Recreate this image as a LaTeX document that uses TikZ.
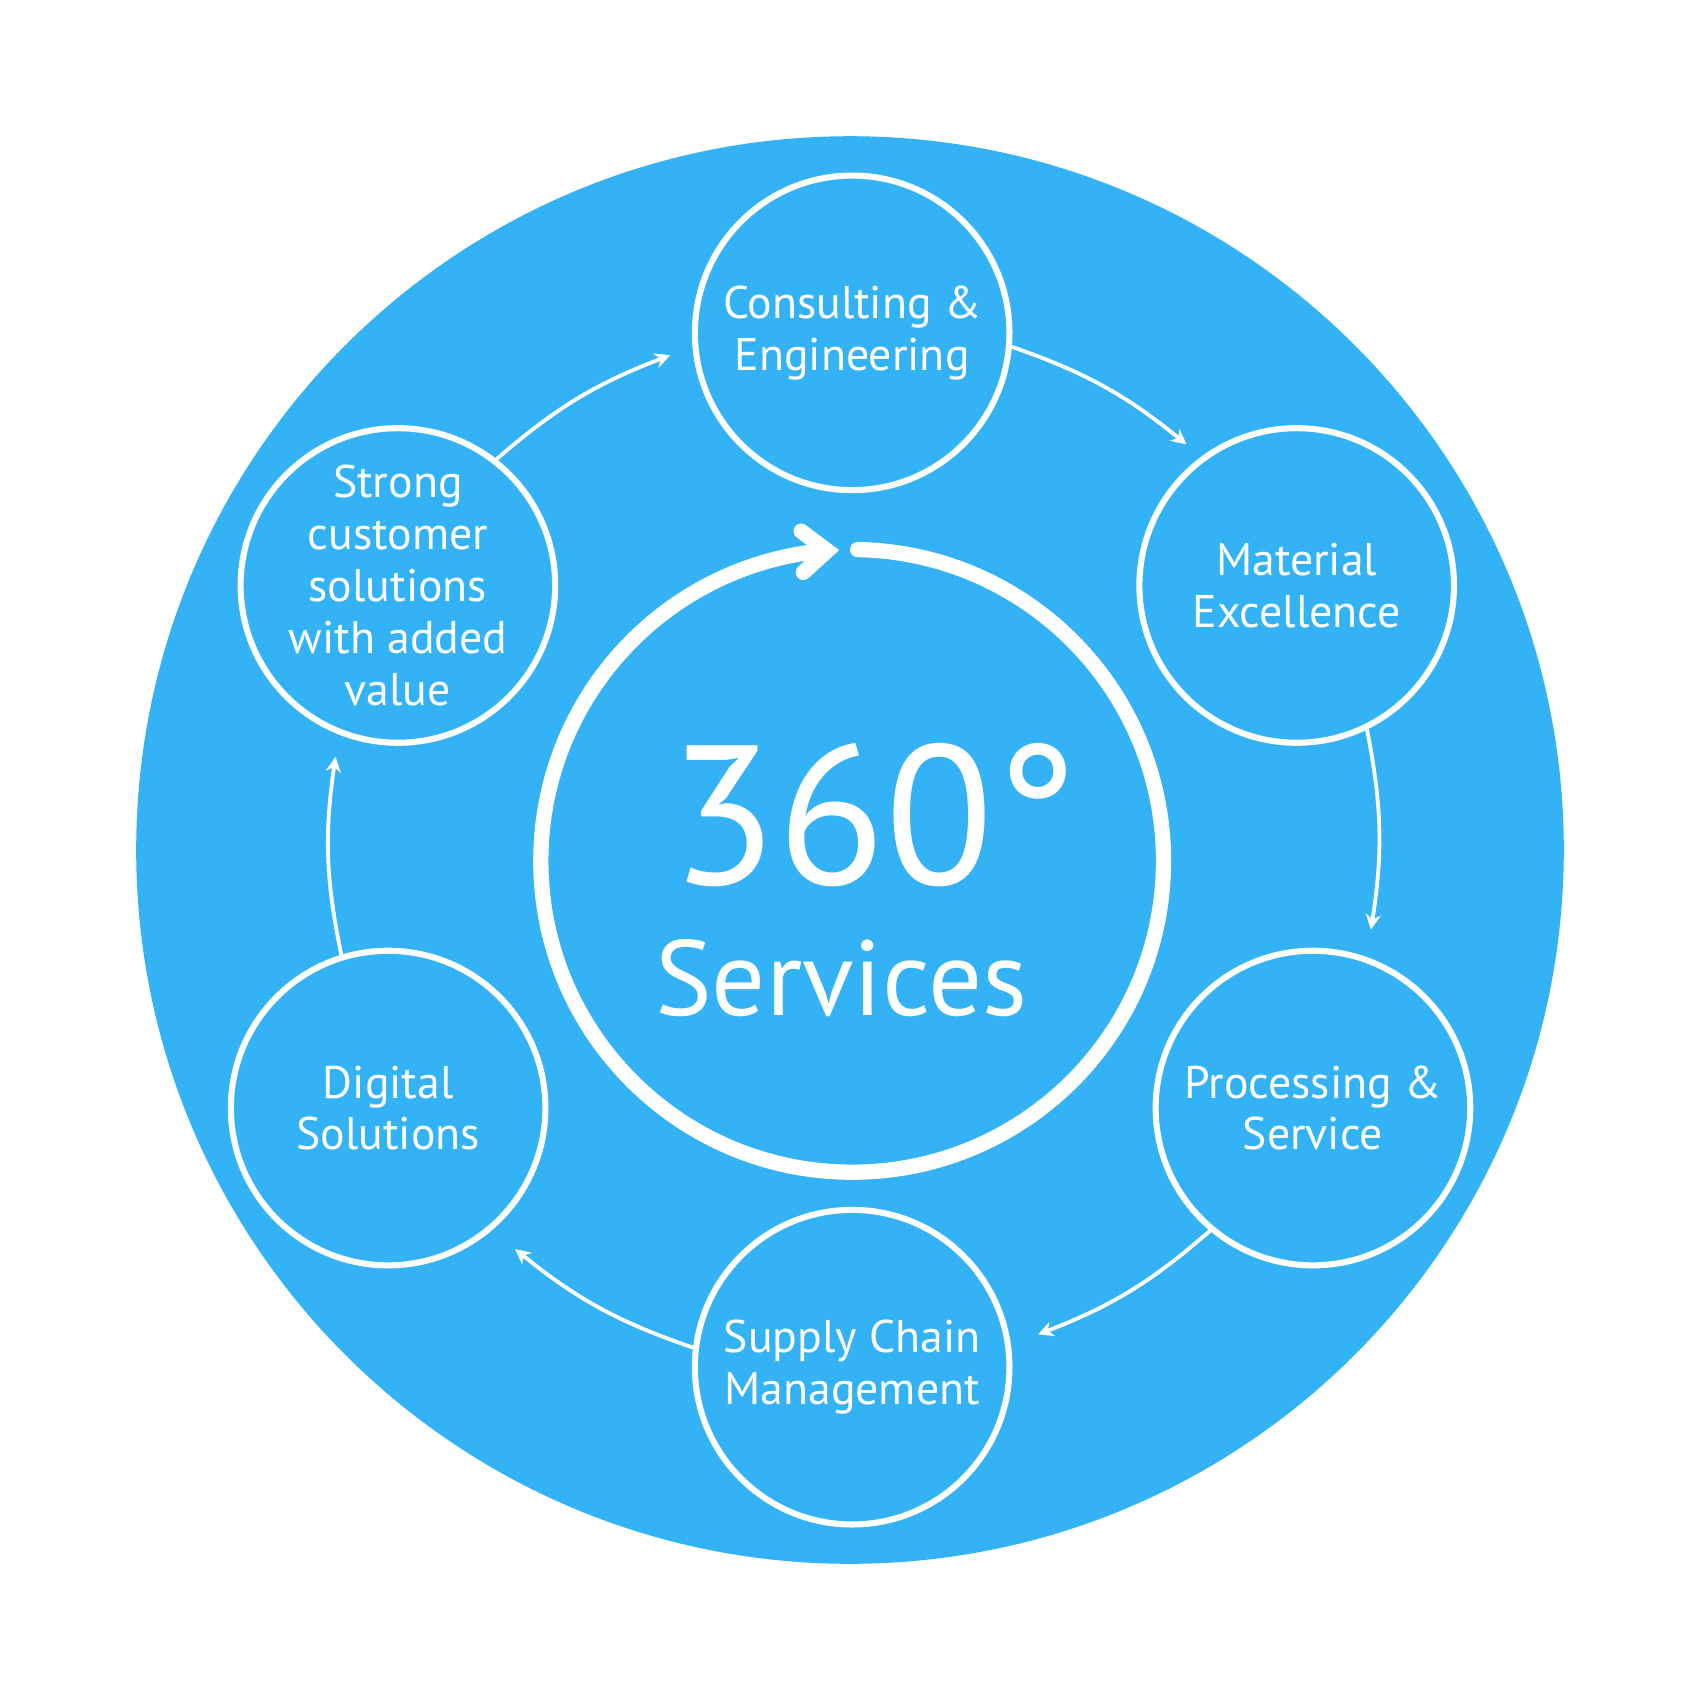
\documentclass[tikz,border=0pt]{standalone}
\usepackage{fontspec}
\setmainfont{PT Sans}
\usetikzlibrary{arrows.meta}
\definecolor{sky}{HTML}{33B2F5}
\begin{document}
\begin{tikzpicture}[x=0.01cm,y=-0.01cm,
  svc/.style={circle,draw=white,line width=1.6pt,minimum size=2.9cm,inner sep=0pt,align=center,text=white,font=\fontsize{12}{13.6}\selectfont},
  link/.style={white,line width=1pt,-{Stealth[length=4pt,width=4pt]},bend left=10}]
\useasboundingbox (0,0) rectangle (1568,1568);
\fill[sky] (784,784) circle[radius=6.58cm];
\node[svc] (ce) at (786,307) {Consulting \&\\Engineering};
\node[svc] (me) at (1196,540) {Material\\Excellence};
\node[svc] (ps) at (1211,1022) {Processing \&\\Service};
\node[svc] (sc) at (786,1261) {Supply Chain\\Management};
\node[svc] (ds) at (358,1022) {Digital\\Solutions};
\node[svc,inner sep=-12pt] (sv) at (367,540) {Strong\\customer\\solutions\\with added\\value};
\coordinate (e1) at ([shift={(128:1.65cm)}]me.center);
\coordinate (e2) at ([shift={(72:1.73cm)}]ps.center);
\coordinate (e3) at ([shift={(10:1.74cm)}]sc.center);
\coordinate (e4) at ([shift={(-48:1.75cm)}]ds.center);
\coordinate (e5) at ([shift={(-110:1.68cm)}]sv.center);
\coordinate (e6) at ([shift={(-173:1.69cm)}]ce.center);
\draw[link] (ce.-5) to (e1);
\draw[link] (me.-64) to (e2);
\draw[link] (ps.-130) to (e3);
\draw[link] (sc.173) to (e4);
\draw[link] (ds.107) to (e5);
\draw[link] (sv.52) to (e6);
\coordinate (ctr) at (786,794);
\draw[white,line width=4pt,line cap=round] ([shift={(89:2.87cm)}]ctr) arc[start angle=89,end angle=-263,radius=2.87cm];
\node[coordinate] (tip) at ([shift={(95:2.87cm)}]ctr) {};
\draw[white,line width=4pt,line cap=round,line join=miter] ([shift={(-22,-18)}]tip) -- ([shift={(2,0)}]tip) -- ([shift={(-20,20)}]tip);
\node[text=white,font=\fontsize{52}{52}\selectfont] (num) at (806,752) {360°};
\node[text=white,font=\fontsize{28}{28}\selectfont] (lbl) at (776,902) {Services};
\end{tikzpicture}
\end{document}
